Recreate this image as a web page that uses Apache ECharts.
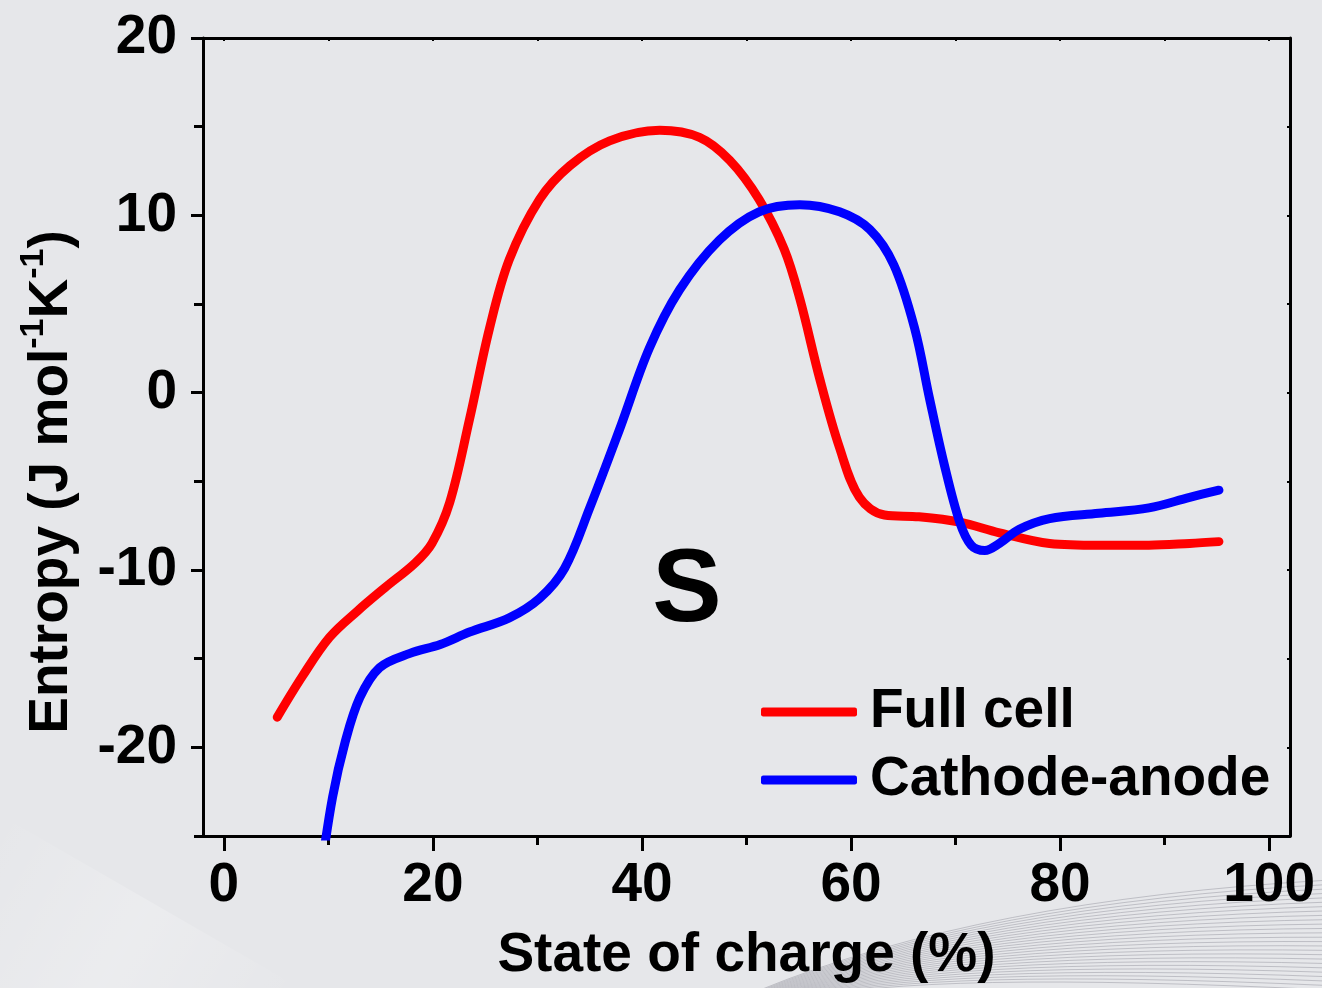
<!DOCTYPE html>
<html>
<head>
<meta charset="utf-8">
<title>Entropy vs state of charge</title>
<script src="https://cdn.jsdelivr.net/npm/echarts@6/dist/echarts.min.js"></script>
<style>
  html, body { margin: 0; padding: 0; background: #e6e7ea; }
  #chart { width: 1322px; height: 988px; }
</style>
</head>
<body>
<div id="chart"></div>
<script>
// State of charge (%) sampled along each entropy curve
const fullCellSoc = [5.1, 7.5, 10.1, 12.8, 15.4, 18.3, 19.9, 21.6, 23.5, 25.4, 27.3, 30.2, 33.1, 36.9, 41.7, 45.5, 48.4, 51.2, 53.6, 55.1, 57.0, 58.9, 60.8, 63.2, 66.5, 70.4, 74.2, 79.0, 83.7, 88.5, 92.4, 95.2];
const fullCellEntropy = [-18.3, -16.0, -13.8, -12.3, -11.0, -9.6, -8.5, -6.2, -1.5, 3.6, 7.5, 10.9, 12.8, 14.2, 14.8, 14.4, 13.1, 10.9, 8.1, 5.3, 0.8, -3.1, -5.9, -6.9, -7.0, -7.3, -7.9, -8.5, -8.6, -8.6, -8.5, -8.4];

const cathodeAnodeSoc = [9.3, 10.4, 11.6, 13.0, 14.9, 17.8, 20.7, 23.5, 27.3, 30.2, 32.6, 35.0, 37.9, 40.7, 43.6, 47.4, 51.2, 55.1, 58.9, 61.8, 64.1, 66.1, 67.5, 68.9, 70.4, 71.5, 72.8, 74.2, 76.1, 79.0, 83.7, 88.5, 92.4, 95.2];
const cathodeAnodeEntropy = [-27.0, -22.8, -19.7, -17.2, -15.5, -14.7, -14.2, -13.5, -12.7, -11.6, -9.9, -6.5, -2.0, 2.5, 5.8, 8.6, 10.2, 10.6, 10.2, 9.2, 7.2, 3.6, -0.3, -4.0, -7.3, -8.6, -8.9, -8.5, -7.7, -7.1, -6.8, -6.5, -5.9, -5.5];

// Axis ticks and labels
const xMajorTicks = [0, 20, 40, 60, 80, 100];
const xMinorTicks = [10, 30, 50, 70, 90];
const yMajorTicks = [-20, -10, 0, 10, 20];
const yMinorTicks = [-25, -15, -5, 5, 15];

const seriesNames = ['Full cell', 'Cathode-anode'];
const seriesColors = ['#ff0000', '#0000ff'];

const FONT = '"Liberation Sans", Arial, Helvetica, sans-serif';

function pairs(xs, ys) { return xs.map((x, i) => [x, ys[i]]); }

const chart = echarts.init(document.getElementById('chart'), null, { renderer: 'canvas' });

// Decorative striped swoosh in the lower right corner
const stripes = [];
for (let i = 0; i < 26; i++) {
  const t = i / 25;
  stripes.push({
    type: 'bezierCurve',
    silent: true,
    z: -10,
    shape: {
      x1: 760 + t * 40, y1: 990 + t * 10,
      cpx1: 980 - t * 60, cpy1: 900 + t * 70,
      x2: 1330, y2: 880 + t * 110
    },
    style: { stroke: 'rgba(150,150,160,0.5)', lineWidth: 1, fill: null }
  });
}

const axisLineStyle = { color: '#000', width: 3 };

chart.setOption({
  backgroundColor: '#e6e7ea',
  animation: false,
  grid: { left: 203, top: 38, right: 32, bottom: 148, containLabel: false },
  legend: {
    orient: 'vertical',
    left: 756,
    top: 676,
    icon: 'roundRect',
    itemWidth: 96,
    itemHeight: 9,
    itemGap: 6,
    data: seriesNames,
    textStyle: {
      fontFamily: FONT, fontWeight: 'bold', fontSize: 55, color: '#000',
      lineHeight: 62, padding: [0, 0, 0, 8]
    }
  },
  xAxis: [
    {
      type: 'value', min: -2, max: 102, position: 'bottom',
      axisLine: { show: true, onZero: false, lineStyle: axisLineStyle },
      axisTick: { show: true, inside: false, length: 15, customValues: xMajorTicks, lineStyle: { width: 3, color: '#000' } },
      axisLabel: { show: true, customValues: xMajorTicks, margin: 22, fontFamily: FONT, fontWeight: 'bold', fontSize: 55, color: '#000' },
      splitLine: { show: false },
      name: 'State of charge (%)', nameLocation: 'middle', nameGap: 92,
      nameTextStyle: { fontFamily: FONT, fontWeight: 'bold', fontSize: 55, color: '#000' }
    },
    {
      type: 'value', min: -2, max: 102, position: 'bottom',
      axisLine: { show: false, onZero: false },
      axisTick: { show: true, inside: false, length: 9, customValues: xMinorTicks, lineStyle: { width: 3, color: '#000' } },
      axisLabel: { show: false },
      splitLine: { show: false }
    },
    {
      type: 'value', min: -2, max: 102, position: 'top',
      axisLine: { show: true, onZero: false, lineStyle: axisLineStyle },
      axisTick: { show: true, inside: true, length: 3, customValues: xMajorTicks.concat(xMinorTicks), lineStyle: { width: 2, color: '#000' } },
      axisLabel: { show: false },
      splitLine: { show: false }
    }
  ],
  yAxis: [
    {
      type: 'value', min: -25, max: 20, position: 'left',
      axisLine: { show: true, onZero: false, lineStyle: axisLineStyle },
      axisTick: { show: true, inside: false, length: 12, customValues: yMajorTicks, lineStyle: { width: 3, color: '#000' } },
      axisLabel: { show: true, customValues: yMajorTicks, margin: 26, fontFamily: FONT, fontWeight: 'bold', fontSize: 55, color: '#000' },
      splitLine: { show: false }
    },
    {
      type: 'value', min: -25, max: 20, position: 'left',
      axisLine: { show: false, onZero: false },
      axisTick: { show: true, inside: false, length: 9, customValues: yMinorTicks, lineStyle: { width: 3, color: '#000' } },
      axisLabel: { show: false },
      splitLine: { show: false }
    },
    {
      type: 'value', min: -25, max: 20, position: 'right',
      axisLine: { show: true, onZero: false, lineStyle: axisLineStyle },
      axisTick: { show: true, inside: true, length: 3, customValues: yMajorTicks.concat(yMinorTicks), lineStyle: { width: 2, color: '#000' } },
      axisLabel: { show: false },
      splitLine: { show: false }
    }
  ],
  series: [
    {
      name: seriesNames[0], type: 'line', xAxisIndex: 0, yAxisIndex: 0,
      data: pairs(fullCellSoc, fullCellEntropy),
      smooth: 0.35, showSymbol: false, clip: true,
      itemStyle: { color: seriesColors[0] },
      lineStyle: { color: seriesColors[0], width: 9, cap: 'round', join: 'round' }
    },
    {
      name: seriesNames[1], type: 'line', xAxisIndex: 0, yAxisIndex: 0,
      data: pairs(cathodeAnodeSoc, cathodeAnodeEntropy),
      smooth: 0.35, showSymbol: false, clip: true,
      itemStyle: { color: seriesColors[1] },
      lineStyle: { color: seriesColors[1], width: 9, cap: 'round', join: 'round' }
    }
  ],
  graphic: [
    {
      type: 'polygon', silent: true, z: -11,
      shape: { points: [[0, 815], [0, 988], [300, 988]] },
      style: {
        fill: new echarts.graphic.LinearGradient(0, 0, 1, 1, [
          { offset: 0, color: 'rgba(255,255,255,0)' },
          { offset: 0.5, color: 'rgba(255,255,255,0.22)' },
          { offset: 1, color: 'rgba(255,255,255,0)' }
        ])
      }
    },
    { type: 'group', silent: true, z: -10, children: stripes },
    {
      type: 'text', silent: true,
      x: 52, y: 482, rotation: Math.PI / 2,
      style: {
        text: 'Entropy (J mol{sup|-1}K{sup|-1})',
        fill: '#000',
        fontFamily: FONT, fontWeight: 'bold', fontSize: 55,
        align: 'center', verticalAlign: 'middle',
        rich: {
          sup: { fontFamily: FONT, fontWeight: 'bold', fontSize: 34, fill: '#000', padding: [0, 0, 36, 0] }
        }
      }
    },
    {
      type: 'text', silent: true,
      x: 687, y: 592,
      style: {
        text: 'S', fill: '#000',
        fontFamily: FONT, fontWeight: 'bold', fontSize: 104,
        align: 'center', verticalAlign: 'middle'
      }
    }
  ]
});
</script>
</body>
</html>
